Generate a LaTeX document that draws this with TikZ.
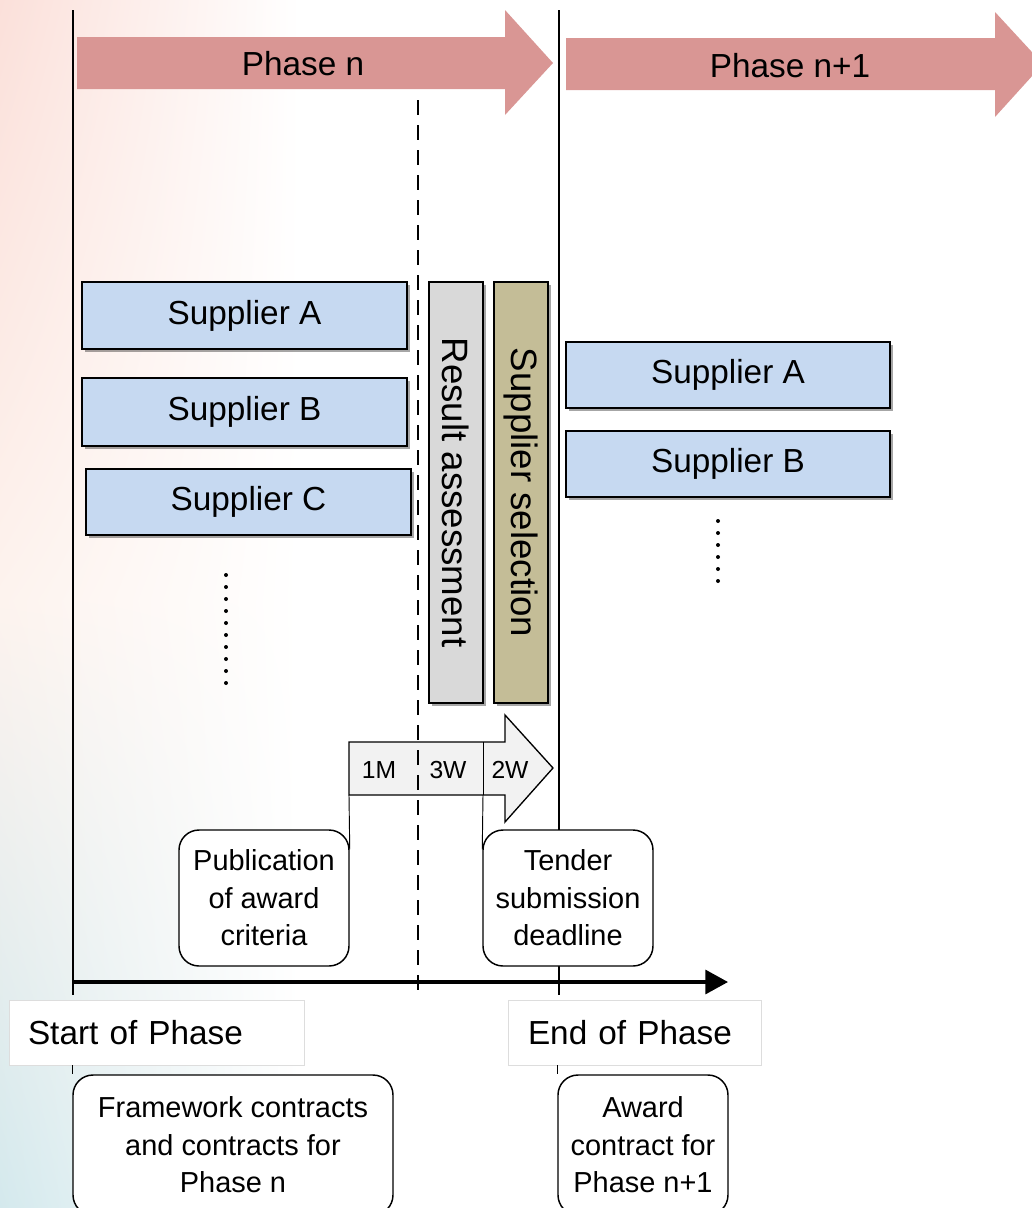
\documentclass[tikz,border=0pt]{standalone}
\usepackage{fontspec}
\setmainfont{Liberation Sans}
\newfontfamily\vfont{Liberation Sans}
\usetikzlibrary{shadows,arrows.meta,shadings}
\definecolor{phasecol}{HTML}{D99694}
\definecolor{suppblue}{HTML}{C6D9F1}
\definecolor{ragray}{HTML}{D9D9D9}
\definecolor{selcol}{HTML}{C4BD97}
\definecolor{tlfill}{HTML}{F2F2F2}
\definecolor{bgpink}{HTML}{FBE0DA}
\definecolor{bgpeach}{HTML}{FDF3EE}
\definecolor{bgmid}{HTML}{F7F9F9}
\definecolor{bgteal}{HTML}{D4E9ED}
\definecolor{labborder}{HTML}{DDDDDD}
\tikzset{
  shad/.style={drop shadow={shadow xshift=2.5pt, shadow yshift=-2.5pt, opacity=0.35, fill=black}},
  supp/.style={draw=black, line width=1.4pt, fill=suppblue, shad, inner sep=0pt,
    minimum width=243.75pt, font=\fontsize{25}{30}\selectfont},
  vbox/.style={draw=black, line width=1.4pt, shad, inner sep=0pt,
    minimum width=40.5pt, minimum height=315.75pt, font=\vfont\fontsize{27.5}{32}\selectfont},
  rbox/.style={draw=black, line width=1.1pt, fill=white, rounded corners=15pt, align=center,
    inner sep=0pt, font=\fontsize{21.7}{28.2}\selectfont},
  labbox/.style={draw=labborder, line width=0.6pt, fill=white, align=left,
    minimum height=48.75pt, font=\fontsize{25}{30}\selectfont},
  phasetxt/.style={font=\fontsize{25}{30}\selectfont},
  tltxt/.style={font=\fontsize{18.5}{22}\selectfont, inner sep=0pt},
  vline/.style={line width=2.2pt},
  dashline/.style={line width=2.2pt, dash pattern=on 11.25pt off 7.5pt},
  thinline/.style={line width=0.7pt},
  dotline/.style={line width=3pt, line cap=round, dash pattern=on 0pt off 9pt},
}
\begin{document}
\begin{tikzpicture}[x=0.75pt,y=-0.75pt]
\useasboundingbox (0,0) rectangle (1032,1208);
\clip (0,0) rectangle (1032,1208);
% background tint
\shade[upper left=bgpink, lower left=bgpeach, upper right=white, lower right=white] (0,0) rectangle (300,600);
\shade[upper left=bgpeach, lower left=bgteal, upper right=white, lower right=white] (0,600) rectangle (300,1208);

% coordinates for the main lines
\coordinate (s1) at (73,10);
\coordinate (s2) at (73,995);
\coordinate (e1) at (559,10);
\coordinate (e2) at (559,995);
\coordinate (d1) at (418,100);
\coordinate (d2) at (418,995);
\coordinate (ax1) at (73,982);
\coordinate (ax2) at (728,982);

% phase arrows
\fill[phasecol] (77,37) -- (505,37) -- (505,10) -- (553,63) -- (505,115) -- (505,89) -- (77,89) -- cycle;
\node[phasetxt] (pn) at (303,64) {Phase n};
\fill[phasecol] (566,38) -- (995,38) -- (995,12) -- (1043,64) -- (995,117) -- (995,90) -- (566,90) -- cycle;
\node[phasetxt] (pn1) at (790,66) {Phase n+1};

% main vertical lines
\draw[vline] (s1) -- (s2);
\draw[vline] (e1) -- (e2);

% suppliers phase n
\node[supp, minimum height=50.25pt] (sa) at (244.5,315.5) {Supplier A};
\node[supp, minimum height=51pt] (sb) at (244.5,412) {Supplier B};
\node[supp, minimum height=49.5pt] (sc) at (248.5,502) {Supplier C};
\coordinate (dl1) at (226,575);
\coordinate (dl2) at (226,686);
\draw[dotline] (dl1) -- (dl2);

% vertical process boxes
\node[vbox, fill=ragray] (ra) at (456,492.5) {\rotatebox{-90}{Result assessment}};
\node[vbox, fill=selcol] (ss) at (521,492.5) {\rotatebox{-90}{Supplier selection}};

% suppliers phase n+1
\node[supp, minimum height=49.5pt, minimum width=243pt] (ra2) at (728,375) {Supplier A};
\node[supp, minimum height=49.5pt, minimum width=243pt] (rb2) at (728,464) {Supplier B};
\coordinate (dr1) at (718,521);
\coordinate (dr2) at (718,584);
\draw[dotline] (dr1) -- (dr2);

% timeline arrow
\draw[line width=1pt, fill=tlfill] (349,742) -- (505,742) -- (505,715) -- (553,768) -- (505,822) -- (505,795) -- (349,795) -- cycle;
\coordinate (tl1) at (349,795);
\coordinate (tl2a) at (483,742);
\coordinate (tl2) at (483,795);
\draw[thinline] (tl2a) -- (tl2);
\node[tltxt] (m1) at (379,770) {1M};
\node[tltxt] (w3) at (448,770) {3W};
\node[tltxt] (w2) at (510,770) {2W};

% dashed line
\draw[dashline] (d1) -- (d2);

% boxes at the timeline
\node[rbox, minimum width=127.5pt, minimum height=102pt] (pub) at (264,898) {Publication\\of award\\criteria};
\node[rbox, minimum width=127.5pt, minimum height=102pt] (tend) at (568,898) {Tender\\submission\\deadline};
\draw[thinline] (tl1) -- ([yshift=-15pt]pub.north east);
\draw[thinline] (tl2) -- ([yshift=-15pt]tend.north west);
\draw[vline] (tend.south -| e2) -- (e2);

% axis
\draw[line width=2.4pt, -{Triangle[length=17pt,width=18pt]}] (ax1) -- (ax2);

% labels below axis
\node[labbox, text width=192.75pt, inner xsep=14.25pt] (sop) at (156.5,1032.5) {Start of Phase};
\node[labbox, text width=159.75pt, inner xsep=15pt] (eop) at (634.5,1032.5) {End of Phase};

\node[rbox, minimum width=240pt, minimum height=105pt] (fw) at (233,1145) {Framework contracts\\and contracts for\\Phase n};
\node[rbox, minimum width=127.5pt, minimum height=105pt] (aw) at (643,1145) {Award\\contract for\\Phase n+1};
\draw[thinline] (sop.south -| fw.west) -- (fw.north west);
\draw[thinline] (eop.south -| aw.west) -- (aw.north west);
\end{tikzpicture}
\end{document}
